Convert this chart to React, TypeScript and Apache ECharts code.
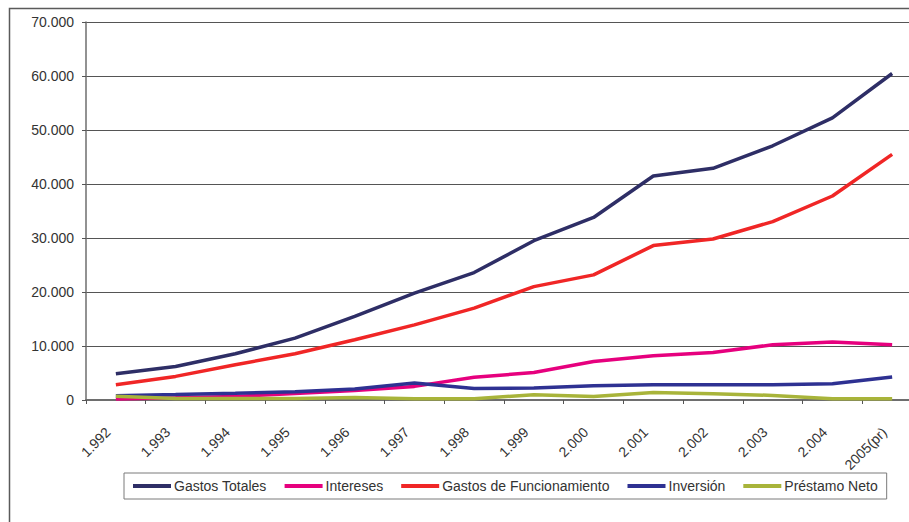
import React, { useEffect, useRef } from "react";
import * as echarts from "echarts";

const categories = ["1.992", "1.993", "1.994", "1.995", "1.996", "1.997", "1.998", "1.999", "2.000", "2.001", "2.002", "2.003", "2.004", "2005(pr)"];
const gastosTotales = [4860, 6200, 8560, 11460, 15500, 19780, 23600, 29500, 33800, 41470, 42900, 47080, 52260, 60460];
const intereses = [200, 400, 670, 1200, 1780, 2520, 4200, 5100, 7140, 8190, 8800, 10230, 10720, 10230];
const gastosFuncionamiento = [2830, 4370, 6530, 8560, 11150, 13920, 17010, 21000, 23170, 28590, 29820, 33030, 37780, 45490];
const inversion = [800, 1000, 1250, 1550, 2030, 3140, 2150, 2220, 2640, 2830, 2830, 2830, 3010, 4250];
const prestamoNeto = [700, 300, 300, 300, 480, 250, 240, 980, 670, 1400, 1160, 850, 240, 240];

const seriesNames = ["Gastos Totales", "Intereses", "Gastos de Funcionamiento", "Inversión", "Préstamo Neto"];
const seriesColors = ["#2e2e66", "#e6007e", "#f02626", "#2e3192", "#a8b43a"];
const seriesData = [gastosTotales, intereses, gastosFuncionamiento, inversion, prestamoNeto];

const FONT = "'Liberation Sans', Arial, sans-serif";

export default function App() {
  const ref = useRef<HTMLDivElement>(null);
  useEffect(() => {
    if (!ref.current) return;
    const chart = echarts.init(ref.current, undefined, { renderer: "svg" });
    chart.setOption({
      animation: false,
      backgroundColor: "#ffffff",
      textStyle: { fontFamily: FONT },
      grid: { left: 86, top: 22, width: 836, height: 378, outerBoundsMode: "none", containLabel: false },
      graphic: [
        {
          type: "rect",
          shape: { x: 9.5, y: 8.5, width: 1000, height: 1000 },
          style: { fill: "none", stroke: "#5a5a5a", lineWidth: 1.5 },
          silent: true,
          z: 100,
        },
      ],
      legend: {
        left: 124,
        top: 473,
        data: seriesNames,
        icon: "rect",
        itemWidth: 38,
        itemHeight: 4,
        itemGap: 18,
        borderColor: "#7a7a7a",
        borderWidth: 1,
        padding: [6, 9, 6, 9],
        textStyle: { fontFamily: FONT, fontSize: 14, color: "#333333", padding: [0, 0, 0, -2] },
      },
      xAxis: {
        type: "category",
        data: categories,
        boundaryGap: true,
        axisLine: { lineStyle: { color: "#6e6e6e", width: 2 } },
        axisTick: { show: true, length: 4, interval: 0, lineStyle: { color: "#555555" } },
        axisLabel: {
          interval: 0,
          rotate: 45,
          margin: 22,
          padding: [0, 11, 0, 0],
          fontFamily: FONT,
          fontSize: 14,
          color: "#333333",
        },
        splitLine: { show: false },
      },
      yAxis: {
        type: "value",
        min: 0,
        max: 70000,
        interval: 10000,
        axisLine: { show: true, lineStyle: { color: "#6e6e6e", width: 1.5 } },
        axisTick: { show: true, length: 4, lineStyle: { color: "#555555" } },
        axisLabel: {
          margin: 12,
          fontFamily: FONT,
          fontSize: 14,
          color: "#333333",
          formatter: (v: number) => (v === 0 ? "0" : v.toLocaleString("de-DE")),
        },
        splitLine: { show: true, lineStyle: { color: "#555555", width: 1 } },
      },
      series: seriesNames.map((name, i) => ({
        name,
        type: "line",
        data: seriesData[i],
        showSymbol: false,
        symbol: "none",
        color: seriesColors[i],
        lineStyle: { color: seriesColors[i], width: 3.5 },
      })),
    });
    return () => chart.dispose();
  }, []);
  return (
    <div
      ref={ref}
      style={{ position: "fixed", left: 0, top: 0, width: 909, height: 522, background: "#fff" }}
    />
  );
}
